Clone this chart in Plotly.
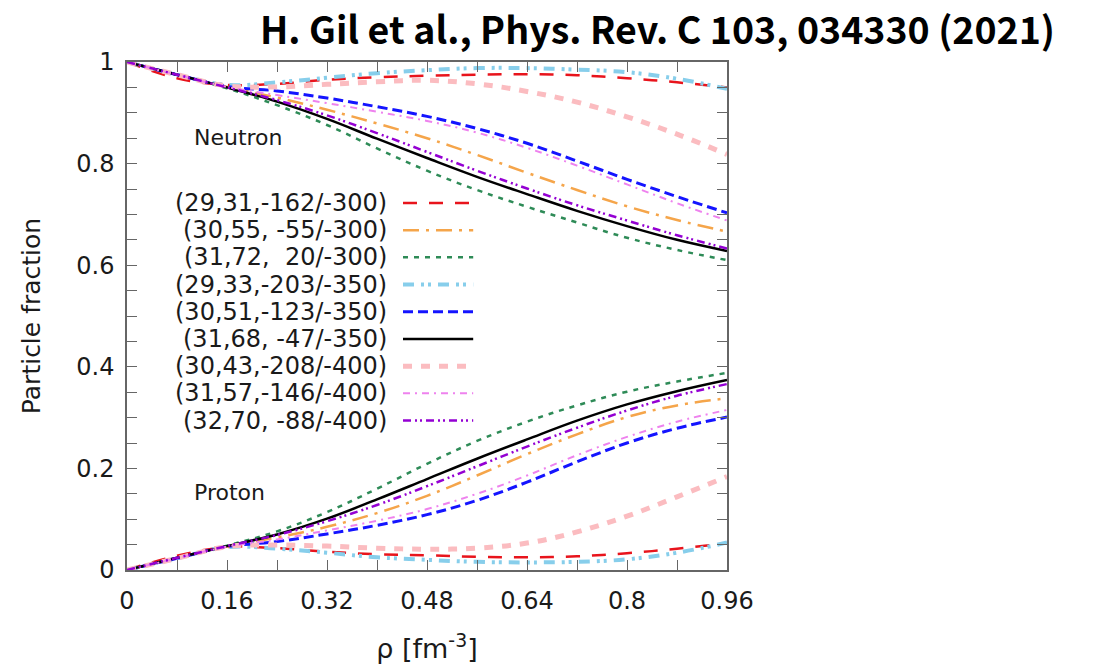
import plotly.graph_objects as go

# Baryon density grid (fm^-3)
rho = [0, 0.08, 0.16, 0.24, 0.32, 0.40, 0.48, 0.56, 0.64, 0.72, 0.80, 0.88, 0.96]

# Parameter sets (J, L, K_sym / K0) shown in the key
labels = [
    "(29,31,-162/-300)",
    "(30,55, -55/-300)",
    "(31,72,\u00a0\u00a020/-300)",
    "(29,33,-203/-350)",
    "(30,51,-123/-350)",
    "(31,68, -47/-350)",
    "(30,43,-208/-400)",
    "(31,57,-146/-400)",
    "(32,70, -88/-400)",
]

# Neutron fractions
neutron_29_31 = [1.0, 0.968, 0.955, 0.957, 0.965, 0.970, 0.973, 0.975, 0.976, 0.974, 0.968, 0.960, 0.950]
neutron_30_55 = [1.0, 0.975, 0.951, 0.930, 0.906, 0.879, 0.850, 0.817, 0.782, 0.748, 0.716, 0.689, 0.666]
neutron_31_72 = [1.0, 0.975, 0.948, 0.915, 0.876, 0.830, 0.786, 0.748, 0.715, 0.684, 0.654, 0.630, 0.610]
neutron_29_33 = [1.0, 0.975, 0.955, 0.960, 0.969, 0.978, 0.984, 0.988, 0.988, 0.985, 0.980, 0.967, 0.947]
neutron_30_51 = [1.0, 0.975, 0.952, 0.943, 0.929, 0.912, 0.893, 0.869, 0.840, 0.805, 0.769, 0.735, 0.703]
neutron_31_68 = [1.0, 0.975, 0.950, 0.922, 0.888, 0.849, 0.811, 0.774, 0.740, 0.707, 0.677, 0.650, 0.628]
neutron_30_43 = [1.0, 0.975, 0.953, 0.951, 0.956, 0.961, 0.964, 0.957, 0.942, 0.921, 0.892, 0.858, 0.818]
neutron_31_57 = [1.0, 0.975, 0.951, 0.935, 0.919, 0.902, 0.884, 0.861, 0.831, 0.796, 0.759, 0.722, 0.688]
neutron_32_70 = [1.0, 0.975, 0.950, 0.925, 0.895, 0.860, 0.823, 0.786, 0.751, 0.718, 0.688, 0.659, 0.633]

# Proton fractions
proton_29_31 = [0.0, 0.028, 0.045, 0.043, 0.036, 0.031, 0.029, 0.026, 0.025, 0.027, 0.033, 0.042, 0.053]
proton_30_55 = [0.0, 0.023, 0.046, 0.064, 0.085, 0.112, 0.146, 0.186, 0.228, 0.267, 0.301, 0.324, 0.338]
proton_31_72 = [0.0, 0.024, 0.048, 0.076, 0.114, 0.160, 0.209, 0.254, 0.292, 0.324, 0.351, 0.371, 0.388]
proton_29_33 = [0.0, 0.023, 0.045, 0.042, 0.034, 0.025, 0.020, 0.016, 0.015, 0.016, 0.021, 0.034, 0.054]
proton_30_51 = [0.0, 0.023, 0.046, 0.056, 0.071, 0.088, 0.109, 0.137, 0.173, 0.213, 0.250, 0.279, 0.301]
proton_31_68 = [0.0, 0.024, 0.047, 0.070, 0.101, 0.139, 0.179, 0.219, 0.257, 0.294, 0.326, 0.352, 0.374]
proton_30_43 = [0.0, 0.023, 0.046, 0.049, 0.047, 0.043, 0.041, 0.043, 0.053, 0.075, 0.106, 0.144, 0.184]
proton_31_57 = [0.0, 0.023, 0.046, 0.060, 0.078, 0.097, 0.120, 0.150, 0.186, 0.226, 0.262, 0.292, 0.315]
proton_32_70 = [0.0, 0.024, 0.047, 0.069, 0.096, 0.128, 0.165, 0.204, 0.243, 0.280, 0.314, 0.343, 0.366]

neutrons = [neutron_29_31, neutron_30_55, neutron_31_72, neutron_29_33, neutron_30_51,
            neutron_31_68, neutron_30_43, neutron_31_57, neutron_32_70]
protons = [proton_29_31, proton_30_55, proton_31_72, proton_29_33, proton_30_51,
           proton_31_68, proton_30_43, proton_31_57, proton_32_70]

# Line styles (gnuplot-like)
styles = [
    dict(color="#e8141c", width=2.5, dash="14px,12px"),
    dict(color="#f5a54a", width=2.5, dash="16px,7px,3px,7px"),
    dict(color="#2e8b57", width=2.5, dash="5px,6px"),
    dict(color="#87ceeb", width=4, dash="11px,7px,3px,4px,3px,7px"),
    dict(color="#1414ff", width=3, dash="10px,5px"),
    dict(color="#000000", width=2.5, dash="solid"),
    dict(color="#fbbcc0", width=5, dash="9px,9px"),
    dict(color="#ee82ee", width=2, dash="7px,5px,2px,5px"),
    dict(color="#9400d3", width=2.5, dash="8px,4px,2px,3px,2px,4px"),
]

fig = go.Figure()
for lab, n, p, st in zip(labels, neutrons, protons, styles):
    for ys in (n, p):
        fig.add_trace(go.Scatter(
            x=rho, y=ys, mode="lines", name=lab, showlegend=False,
            line=dict(shape="spline", smoothing=1.1, **st),
        ))

FONT = "DejaVu Sans"
TXT = "#1a1a1a"

# Key: text right-aligned with a sample segment to its right
key_top = 0.7225
key_step = 27.2 / 508
for i, (lab, st) in enumerate(zip(labels, styles)):
    yk = key_top - i * key_step
    fig.add_annotation(xref="paper", yref="paper", x=0.437, y=yk, text=lab,
                       showarrow=False, xanchor="right", yanchor="middle",
                       font=dict(family=FONT, size=24, color=TXT))
    fig.add_shape(type="line", xref="paper", yref="paper",
                  x0=0.46, x1=0.577, y0=yk, y1=yk, line=st)

fig.add_annotation(x=0.1035, y=0.852, text="Neutron", showarrow=False,
                   xanchor="left", yanchor="middle",
                   font=dict(family=FONT, size=22, color=TXT))
fig.add_annotation(x=0.1035, y=0.152, text="Proton", showarrow=False,
                   xanchor="left", yanchor="middle",
                   font=dict(family=FONT, size=22, color=TXT))

axis_common = dict(showgrid=False, zeroline=False, showline=True, linecolor="#666666",
                   linewidth=1.5, mirror="ticks", ticks="inside", ticklen=10,
                   tickcolor="#666666", tickwidth=1.2,
                   tickfont=dict(family=FONT, size=24, color=TXT))

fig.update_xaxes(range=[0, 0.96], tick0=0, dtick=0.16,
                 minor=dict(dtick=0.08, ticks="inside", ticklen=10,
                            tickcolor="#666666", tickwidth=1.2, showgrid=False),
                 ticklabelstandoff=8,
                 title=dict(text="ρ [fm<sup>-3</sup>]", font=dict(family=FONT, size=27, color=TXT),
                            standoff=26),
                 **axis_common)
fig.update_yaxes(range=[0, 1], tick0=0, dtick=0.2,
                 minor=dict(dtick=0.05, ticks="inside", ticklen=10,
                            tickcolor="#666666", tickwidth=1.2, showgrid=False),
                 ticklabelstandoff=6,
                 title=dict(text="Particle fraction", font=dict(family=FONT, size=25, color=TXT),
                            standoff=29),
                 **axis_common)

fig.update_layout(
    width=1094, height=670,
    margin=dict(l=127, r=367, t=62, b=100),
    paper_bgcolor="white", plot_bgcolor="white",
    title=dict(text="<b>H. Gil et al., Phys. Rev. C 103, 034330 (2021)</b>",
               font=dict(family="Noto Sans CJK KR", size=37.5, color="#000000"),
               xref="container", yref="container", x=1055 / 1094, xanchor="right",
               y=1 - 31 / 670, yanchor="middle"),
)

fig.write_html("out.html")
